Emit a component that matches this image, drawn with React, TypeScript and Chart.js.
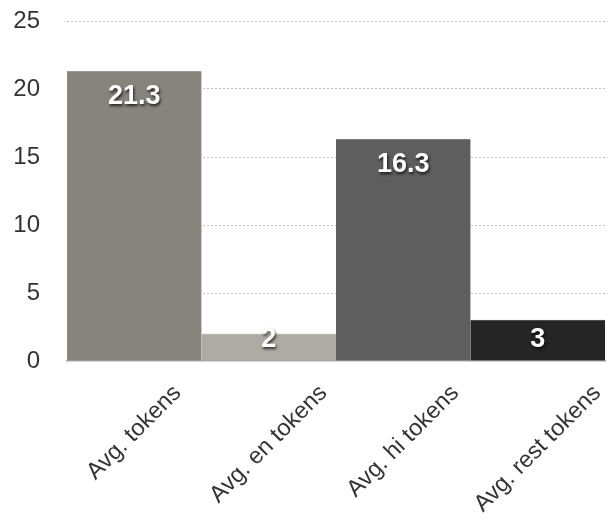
import React, { useEffect, useRef } from 'react';
import { Chart, registerables } from 'chart.js';

Chart.register(...registerables);

const categories = ['Avg. tokens', 'Avg. en tokens', 'Avg. hi tokens', 'Avg. rest tokens'];
const values = [21.3, 2, 16.3, 3];
const valueLabels = ['21.3', '2', '16.3', '3'];
const yMin = 0;
const yMax = 25;
const yStep = 5;
const barColors = ['#87847e', '#aeaaa4', '#5e5e5e', '#252525'];
const barTopColors = ['#9b9993', '#c6c3be', '#7a7a7a', '#5a5a5a'];
const FONT = '"Liberation Sans", Arial, Helvetica, sans-serif';

const labelPlugin = {
  id: 'customLabels',
  afterDatasetsDraw(chart: any) {
    const ctx = chart.ctx as CanvasRenderingContext2D;
    const meta = chart.getDatasetMeta(0);
    const area = chart.chartArea;
    ctx.save();
    ctx.font = `bold 27px ${FONT}`;
    ctx.textAlign = 'center';
    ctx.textBaseline = 'middle';
    ctx.fillStyle = '#ffffff';
    ctx.shadowColor = 'rgba(0,0,0,0.75)';
    ctx.shadowBlur = 3;
    ctx.shadowOffsetX = 1;
    ctx.shadowOffsetY = 2;
    meta.data.forEach((bar: any, i: number) => {
      const y = Math.min(bar.y + 25, area.bottom - 21);
      ctx.fillText(valueLabels[i], bar.x, y);
    });
    ctx.restore();

    ctx.save();
    ctx.font = `23.5px ${FONT}`;
    ctx.fillStyle = '#333333';
    const xs = chart.scales.x;
    categories.forEach((c, i) => {
      const cx = xs.getPixelForValue(i);
      const L = ctx.measureText(c).width;
      const h = 21;
      const cy = area.bottom + 21 + (Math.SQRT1_2 * (L + h)) / 2;
      ctx.save();
      ctx.translate(cx, cy);
      ctx.rotate(-Math.PI / 4);
      ctx.textAlign = 'center';
      ctx.textBaseline = 'middle';
      ctx.fillText(c, 0, 0);
      ctx.restore();
    });
    ctx.restore();
  },
};

export default function App() {
  const canvasRef = useRef<HTMLCanvasElement | null>(null);

  useEffect(() => {
    document.body.style.margin = '0';
    const canvas = canvasRef.current;
    if (!canvas) return;
    const chart = new Chart(canvas, {
      type: 'bar',
      data: {
        labels: categories,
        datasets: [
          {
            data: values,
            backgroundColor: barColors,
            borderColor: barTopColors,
            borderWidth: { top: 1, left: 0, right: 0, bottom: 0 },
            borderSkipped: false,
            barPercentage: 1,
            categoryPercentage: 1,
          },
        ],
      },
      options: {
        responsive: false,
        animation: false,
        devicePixelRatio: 1,
        layout: { padding: { left: 0, right: 9, top: 21, bottom: 162 } },
        plugins: {
          legend: { display: false },
          tooltip: { enabled: false },
        },
        scales: {
          x: {
            type: 'category',
            offset: true,
            grid: { display: false },
            ticks: { display: false },
            border: { display: true, color: '#a9a9a9', width: 1.5 },
            afterFit(scale: any) {
              scale.height = 0;
              scale.paddingLeft = 0;
              scale.paddingRight = 0;
            },
          },
          y: {
            min: yMin,
            max: yMax,
            ticks: {
              stepSize: yStep,
              font: { size: 24, family: FONT },
              color: '#333333',
              padding: 27,
            },
            grid: {
              drawTicks: false,
              color: (c: any) => (c.tick && c.tick.value === 0 ? 'rgba(0,0,0,0)' : '#c2c2c2'),
              lineWidth: 1,
            },
            border: { display: false, dash: [2, 2] },
            afterFit(scale: any) {
              scale.width = 67;
              scale.paddingTop = 0;
              scale.paddingBottom = 0;
            },
          },
        },
      },
      plugins: [labelPlugin],
    } as any);
    return () => chart.destroy();
  }, []);

  return (
    <div style={{ position: 'fixed', left: 0, top: 0, width: 614, height: 523 }}>
      <canvas ref={canvasRef} width={614} height={523} style={{ width: 614, height: 523 }} />
    </div>
  );
}
